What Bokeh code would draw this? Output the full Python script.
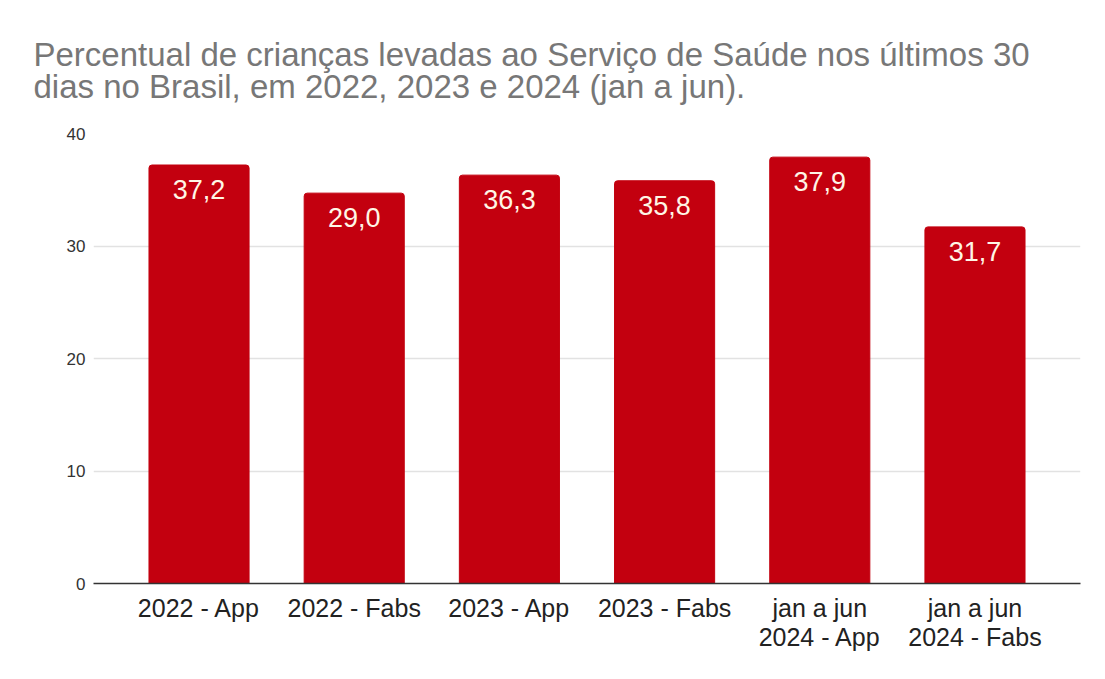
from bokeh.plotting import figure
from bokeh.models import ColumnDataSource, FactorRange, Title
from bokeh.core.properties import value
from bokeh.embed import file_html
from bokeh.resources import INLINE

categories = ["2022 - App", "2022 - Fabs", "2023 - App", "2023 - Fabs",
              "jan a jun\n2024 - App", "jan a jun\n2024 - Fabs"]
bar_values = [37.2, 34.7, 36.3, 35.8, 37.9, 31.7]
bar_labels = ["37,2", "29,0", "36,3", "35,8", "37,9", "31,7"]
y_ticks = [0, 10, 20, 30, 40]

title_text = ("Percentual de crianças levadas ao Serviço de Saúde nos últimos 30\n"
              "dias no Brasil, em 2022, 2023 e 2024 (jan a jun).")

FONT = "Liberation Sans"
BAR_COLOR = "#c3000f"

source = ColumnDataSource(dict(cat=categories, val=bar_values, lab=bar_labels))

p = figure(
    x_range=FactorRange(factors=categories, range_padding=0.18,
                        range_padding_units="absolute"),
    y_range=(0, 40),
    width=1098, height=667,
    output_backend="svg", toolbar_location=None,
    min_border_left=93, min_border_right=18, min_border_top=133,
    min_border_bottom=84,
)
p.title = None

t = Title(text=title_text, text_font=FONT, text_font_size="33px",
          text_color="#777777", text_font_style="normal", align="left",
          offset=-60, standoff=57, text_line_height=0.86)
p.add_layout(t, "above")

p.vbar(x="cat", top="val", width=0.645, source=source, color=BAR_COLOR,
       border_radius=(3, 3, 0, 0))
p.text(x="cat", y="val", text="lab", source=source, text_align="center",
       text_baseline="top", y_offset=15, text_font=value(FONT),
       text_font_size="27px", text_color="#fff6e6")

p.outline_line_color = None
p.background_fill_color = "white"
p.border_fill_color = "white"

p.xgrid.grid_line_color = None
p.ygrid.grid_line_color = "#e2e2e2"
p.ygrid.grid_line_width = 1.5
p.ygrid.ticker = y_ticks

p.yaxis.ticker = y_ticks
p.yaxis.axis_line_color = None
p.yaxis.major_tick_line_color = None
p.yaxis.minor_tick_line_color = None
p.yaxis.major_tick_out = 0
p.yaxis.major_tick_in = 0
p.yaxis.major_label_text_font = FONT
p.yaxis.major_label_text_font_size = "17px"
p.yaxis.major_label_text_color = "#333333"
p.yaxis.major_label_standoff = 8

p.xaxis.axis_line_color = "#333333"
p.xaxis.axis_line_width = 1.5
p.xaxis.major_tick_line_color = None
p.xaxis.minor_tick_line_color = None
p.xaxis.major_tick_out = 0
p.xaxis.major_tick_in = 0
p.xaxis.major_label_text_font = FONT
p.xaxis.major_label_text_font_size = "25px"
p.xaxis.major_label_text_color = "#222222"
p.xaxis.major_label_text_line_height = 1.05
p.xaxis.major_label_standoff = 10

open("out.html", "w").write(file_html(p, INLINE))
